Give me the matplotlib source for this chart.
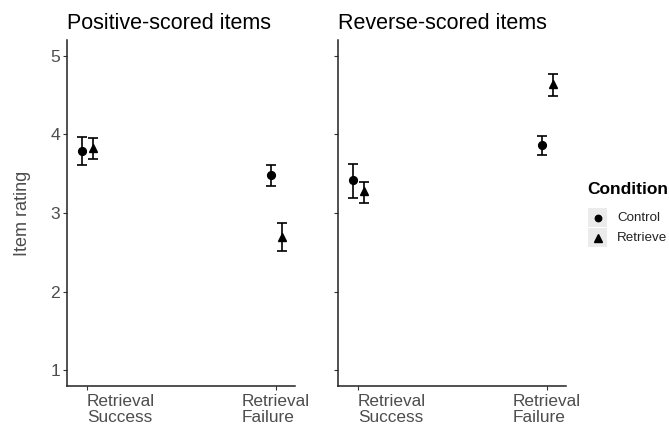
import matplotlib
matplotlib.use("Agg")
import matplotlib.pyplot as plt
import numpy as np
from matplotlib.lines import Line2D
from matplotlib.patches import Rectangle

plt.rcParams['font.family'] = ['Liberation Sans', 'DejaVu Sans']

categories = ["Retrieval\nSuccess", "Retrieval\nFailure"]
panels = ["Positive-scored items", "Reverse-scored items"]
conditions = ["Control", "Retrieve"]

# Positive-scored
pos_control_mean = [3.79, 3.48]
pos_control_lo = [3.61, 3.34]
pos_control_hi = [3.97, 3.61]
pos_retrieve_mean = [3.82, 2.70]
pos_retrieve_lo = [3.68, 2.52]
pos_retrieve_hi = [3.95, 2.87]

# Reverse-scored
rev_control_mean = [3.42, 3.87]
rev_control_lo = [3.19, 3.74]
rev_control_hi = [3.62, 3.98]
rev_retrieve_mean = [3.28, 4.64]
rev_retrieve_lo = [3.13, 4.49]
rev_retrieve_hi = [3.40, 4.77]

y_ticks = [1, 2, 3, 4, 5]

data = {
    panels[0]: [(pos_control_mean, pos_control_lo, pos_control_hi),
                (pos_retrieve_mean, pos_retrieve_lo, pos_retrieve_hi)],
    panels[1]: [(rev_control_mean, rev_control_lo, rev_control_hi),
                (rev_retrieve_mean, rev_retrieve_lo, rev_retrieve_hi)],
}

W, H = 669, 429
fig = plt.figure(figsize=(W / 100, H / 100), dpi=100)
ax1 = fig.add_axes([0.100, 0.100, 0.341, 0.807])
ax2 = fig.add_axes([0.505, 0.100, 0.341, 0.807])

markers = ['o', '^']
msizes = [5.6, 6.2]
offsets = [-0.029, 0.029]
grey = '#4d4d4d'

for ax, panel in zip([ax1, ax2], panels):
    x = np.arange(1, len(categories) + 1)
    for (mean, lo, hi), m, ms, off in zip(data[panel], markers, msizes, offsets):
        mean = np.array(mean); lo = np.array(lo); hi = np.array(hi)
        ax.errorbar(x + off, mean, yerr=[mean - lo, hi - mean], fmt=m,
                    color='black', markersize=ms,
                    capsize=3.4, elinewidth=1.2, capthick=1.2)
    ax.set_xlim(0.893, 2.1)
    ax.set_ylim(0.8, 5.2)
    ax.set_xticks(x)
    ax.set_xticklabels(categories, fontsize=12.4, color=grey, linespacing=1.05)
    ax.set_yticks(y_ticks)
    for s in ['top', 'right']:
        ax.spines[s].set_visible(False)
    for s in ['left', 'bottom']:
        ax.spines[s].set_color('#222222')
        ax.spines[s].set_linewidth(1.1)
    ax.tick_params(axis='both', length=3, color='#333333', width=0.8,
                   labelsize=12.6, labelcolor=grey)
    ax.tick_params(axis='x', pad=3, labelsize=12.4)
    ax.tick_params(axis='y', pad=2)
    ax.set_title(panel, loc='left', fontsize=15.5, color='black', pad=8)
    labs = ax.get_xticklabels()
    # first label starts at its tick, second is centred on its tick
    labs[0].set_horizontalalignment('left')
    labs[0].set_multialignment('left')
    labs[1].set_horizontalalignment('center')
    labs[1].set_multialignment('left')

ax1.set_yticklabels([str(t) for t in y_ticks])
ax2.set_yticklabels([])
ax1.set_ylabel("Item rating", fontsize=13, color=grey, labelpad=14)

# Legend (ggplot-like, with grey key backgrounds)
def fx(px):
    return px / W

def fy(py):
    return 1 - py / H

fig.text(fx(587), fy(189), "Condition", fontsize=12.5, fontweight='bold',
         ha='left', va='center', color='black')
key_top = 208
key_h = 20
for i, (cond, m) in enumerate(zip(conditions, markers)):
    top = key_top + i * key_h
    fig.patches.append(Rectangle((fx(588), fy(top + key_h - 1)), fx(19), (key_h - 1) / H,
                                 transform=fig.transFigure, facecolor='#ebebeb',
                                 edgecolor='none'))
    fig.add_artist(Line2D([fx(597.5)], [fy(top + key_h / 2)], marker=m,
                          color='black', linestyle='none',
                          markersize=4.6 if m == 'o' else 5.2,
                          transform=fig.transFigure))
    fig.text(fx(617), fy(top + key_h / 2), cond, fontsize=9.6, ha='left',
             va='center', color='#222222')

fig.savefig("out.png", dpi=100)
